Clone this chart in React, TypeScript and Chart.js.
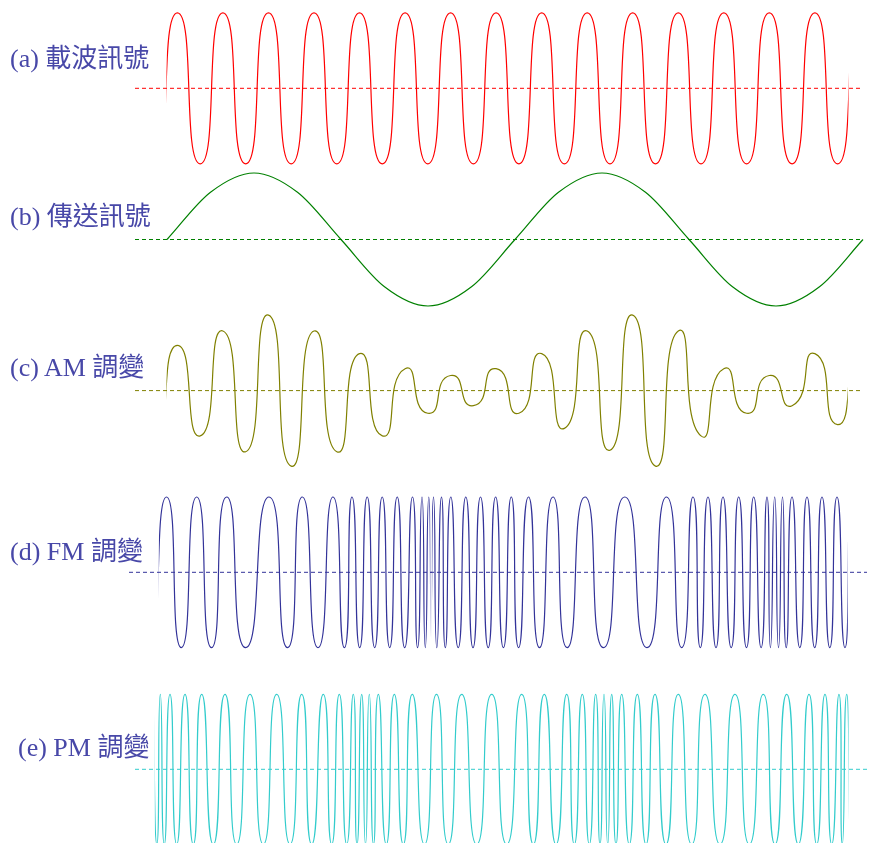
import React, { useEffect, useRef } from "react";
import { Chart, registerables } from "chart.js";

Chart.register(...registerables);

// Time axis: samples counted from the start of the carrier.
// (a) carrier: extrema (amplitude 1)
const carrierPeakTimes = [11.4, 56.9, 102.5, 148.0, 193.5, 239.1, 284.6, 330.1, 375.7, 421.2, 466.7, 512.3, 557.8, 603.3, 648.9];
const carrierTroughTimes = [34.2, 79.7, 125.2, 170.8, 216.3, 261.8, 307.4, 352.9, 398.4, 444.0, 489.5, 535.0, 580.6, 626.1, 671.6];
const carrierSpan = [0, 683];

// (b) message signal
const messageTimes = [1, 44.5, 88, 131.5, 175, 218.5, 262, 305.5, 349, 392.5, 436, 479.5, 523, 566.5, 610, 653.5, 697];
const messageValues = [0, 0.71, 1, 0.71, 0, -0.71, -1, -0.71, 0, 0.71, 1, 0.71, 0, -0.71, -1, -0.71, 0];

// (c) AM: envelope level at each carrier peak / trough
const amPeakLevels = [0.6, 0.79, 1.0, 0.79, 0.49, 0.29, 0.2, 0.29, 0.49, 0.79, 1.0, 0.79, 0.29, 0.2, 0.49];
const amTroughLevels = [0.6, 0.81, 1.0, 0.81, 0.6, 0.3, 0.2, 0.3, 0.5, 0.79, 1.0, 0.6, 0.3, 0.2, 0.45];
const amSpan = [0, 682.3];

// (d) FM (with a short flat step at the centre line around t = 265)
const fmPeakTimes = [0.5, 30.7, 60.7, 103, 136.3, 167, 186, 201.2, 216.2, 231.2, 246.5, 256, 262.8, 267.5, 275.5, 284.8, 299.8, 314.5, 329.6, 345.3, 362.5, 387, 419, 458.8, 500.5, 527, 542, 557, 572.7, 587.7, 601, 608.7, 616.5, 626, 641, 656, 671];
const fmTroughTimes = [15.3, 45.5, 79.7, 121.5, 152, 178.4, 193.7, 208.7, 223.7, 238.7, 251.6, 259.3, 270.8, 279.3, 292.2, 307, 322.2, 337.4, 352.6, 373.5, 401.2, 437.5, 481, 515.7, 534.3, 550, 565.2, 580.5, 595.1, 604.4, 612.5, 620.2, 633.8, 648.7, 663.8, 679];
const fmFlatZeroTimes = [264.5, 265.7];
const fmSpan = [-7.7, 682.3];

// (e) PM
const pmPeakTimes = [-5.7, 4, 19, 35.7, 59, 84, 110.7, 135.7, 157.3, 173.3, 187.3, 195.7, 203.3, 212.3, 228.3, 246.3, 270.5, 295.7, 325.7, 355.7, 378.3, 400.7, 416.3, 429.7, 438, 445.7, 455.7, 471.3, 489, 512.3, 539, 569, 597.3, 620.7, 643, 659, 673, 680.7];
const pmTroughTimes = [-9.2, -1.7, 10.7, 27.3, 47.3, 70.7, 97.3, 124, 145.7, 165.7, 180.7, 191, 199.5, 207.5, 220.3, 237.3, 258.5, 282.3, 310.7, 340.7, 367.3, 390, 408.3, 423.3, 434, 441.7, 450, 463.3, 480, 500, 525.7, 554, 583.3, 609, 632.3, 650.7, 665.7, 676.3];
const pmSpan = [-11.7, 683];

const panelLabels = ["(a) 載波訊號", "(b) 傳送訊號", "(c) AM 調變", "(d) FM 調變", "(e) PM 調變"];
const baselineStart = [-31, -31, -31, -37, -31];
const baselineEnd = [697, 697, 696, 701, 703];

// layout / style (not data)
const W = 869;
const H = 843;
const X_MIN = -166;
const PANELS = [
  { id: "ya", center: 88.3, amp: 75.5, color: "#ff0000", labelX: 10, baseline: 68 },
  { id: "yb", center: 239.5, amp: 66.5, color: "#008000", labelX: 10, baseline: 226 },
  { id: "yc", center: 390.6, amp: 75.5, color: "#808000", labelX: 10, baseline: 377 },
  { id: "yd", center: 572.3, amp: 75.3, color: "#333399", labelX: 10, baseline: 561 },
  { id: "ye", center: 769.3, amp: 75, color: "#33cccc", labelX: 18, baseline: 756.5 },
];
const LABEL_COLOR = "#4848a8";
const LOBE_TENSION = 0.78;
const EDGE_INSET = 0.5;
const JOIN_INSET = 0.2;

type P = { x: number; y: number };

function mergePoints(peaks: number[], peakVals: number[], troughs: number[], troughVals: number[]): P[] {
  const pts: P[] = [];
  peaks.forEach((t, i) => pts.push({ x: t, y: peakVals[i] }));
  troughs.forEach((t, i) => pts.push({ x: t, y: -troughVals[i] }));
  return pts.sort((a, b) => a.x - b.x);
}
// Continue the wave (odd symmetry) past its start/end zero so the spline keeps
// its lobe shape; the continuation is clipped away when drawn.
function withEdges(pts: P[], span: number[]): P[] {
  const [s, e] = span;
  const head = [pts[1], pts[0]].map((p) => ({ x: 2 * s - p.x, y: -p.y }));
  const n = pts.length;
  const tail = [pts[n - 1], pts[n - 2]].map((p) => ({ x: 2 * e - p.x, y: -p.y }));
  return [...head, ...pts, ...tail];
}
const ones = (n: number) => new Array(n).fill(1);

const spanClip = {
  id: "spanClip",
  beforeDatasetDraw(chart: any, args: any) {
    const ds: any = chart.data.datasets[args.index];
    if (!ds.span) return;
    const x = chart.scales.x;
    const l = x.getPixelForValue(ds.span[0]) + ds.insets[0];
    const r = x.getPixelForValue(ds.span[1]) - ds.insets[1];
    chart.ctx.save();
    chart.ctx.beginPath();
    chart.ctx.rect(l, 0, r - l, chart.height);
    chart.ctx.clip();
  },
  afterDatasetDraw(chart: any, args: any) {
    const ds: any = chart.data.datasets[args.index];
    if (!ds.span) return;
    chart.ctx.restore();
  },
};

export default function App() {
  const ref = useRef<HTMLCanvasElement | null>(null);

  useEffect(() => {
    if (!ref.current) return;
    const carrier = mergePoints(carrierPeakTimes, ones(carrierPeakTimes.length), carrierTroughTimes, ones(carrierTroughTimes.length));
    const message = messageTimes.map((t, i) => ({ x: t, y: messageValues[i] }));
    const am = mergePoints(carrierPeakTimes, amPeakLevels, carrierTroughTimes, amTroughLevels);
    const fm = mergePoints(fmPeakTimes, ones(fmPeakTimes.length), fmTroughTimes, ones(fmTroughTimes.length));
    const pm = mergePoints(pmPeakTimes, ones(pmPeakTimes.length), pmTroughTimes, ones(pmTroughTimes.length));
    const fmSpanA = [fmSpan[0], fmFlatZeroTimes[0]];
    const fmSpanB = [fmFlatZeroTimes[1], fmSpan[1]];
    const fmA = fm.filter((p) => p.x < fmSpanA[1]);
    const fmB = fm.filter((p) => p.x > fmSpanB[0]);

    type Wave = { panel: number; data: P[]; span?: number[]; insets?: number[]; mode: string };
    const waves: Wave[] = [
      { panel: 0, data: withEdges(carrier, carrierSpan), span: carrierSpan, insets: [EDGE_INSET, EDGE_INSET], mode: "lobe" },
      { panel: 1, data: message, mode: "monotone" },
      { panel: 2, data: withEdges(am, amSpan), span: amSpan, insets: [EDGE_INSET, EDGE_INSET], mode: "lobe" },
      { panel: 3, data: withEdges(fmA, fmSpanA), span: fmSpanA, insets: [EDGE_INSET, JOIN_INSET], mode: "lobe" },
      { panel: 3, data: fmFlatZeroTimes.map((t) => ({ x: t, y: 0 })), mode: "straight" },
      { panel: 3, data: withEdges(fmB, fmSpanB), span: fmSpanB, insets: [JOIN_INSET, EDGE_INSET], mode: "lobe" },
      { panel: 4, data: withEdges(pm, pmSpan), span: pmSpan, insets: [EDGE_INSET, EDGE_INSET], mode: "lobe" },
    ];

    const datasets: any[] = [];
    PANELS.forEach((p, i) => {
      datasets.push({
        data: [
          { x: baselineStart[i], y: 0 },
          { x: baselineEnd[i], y: 0 },
        ],
        yAxisID: p.id,
        borderColor: p.color,
        borderWidth: 1,
        borderDash: [4, 3],
        pointRadius: 0,
        tension: 0,
      });
    });
    waves.forEach((w) => {
      const p = PANELS[w.panel];
      const ds: any = {
        data: w.data,
        yAxisID: p.id,
        borderColor: p.color,
        borderWidth: 1.2,
        pointRadius: 0,
      };
      if (w.mode === "lobe") {
        ds.span = w.span;
        ds.insets = w.insets;
        ds.cubicInterpolationMode = "default";
        ds.tension = LOBE_TENSION;
      } else if (w.mode === "monotone") {
        ds.cubicInterpolationMode = "monotone";
      } else {
        ds.tension = 0;
      }
      datasets.push(ds);
    });

    const scales: any = {
      x: { type: "linear", min: X_MIN, max: X_MIN + W, display: false },
    };
    PANELS.forEach((p) => {
      scales[p.id] = {
        type: "linear",
        min: -(H - p.center) / p.amp,
        max: p.center / p.amp,
        display: false,
      };
    });

    const chart = new Chart(ref.current, {
      type: "line",
      data: { datasets },
      options: {
        responsive: false,
        animation: false,
        layout: { padding: 0 },
        plugins: { legend: { display: false }, tooltip: { enabled: false }, title: { display: false } },
        events: [],
        scales,
      },
      plugins: [spanClip],
    });
    return () => chart.destroy();
  }, []);

  return (
    <div style={{ position: "absolute", left: 0, top: 0, width: W, height: H, background: "#fff", overflow: "hidden" }}>
      <canvas ref={ref} width={W} height={H} style={{ display: "block", width: W, height: H }} />
      {PANELS.map((p, i) => (
        <div
          key={p.id}
          style={{
            position: "absolute",
            left: p.labelX,
            top: p.baseline - 22,
            fontSize: 26,
            lineHeight: "26px",
            whiteSpace: "nowrap",
            color: LABEL_COLOR,
            fontFamily: '"Liberation Serif", "Noto Sans CJK TC", serif',
          }}
        >
          {panelLabels[i]}
        </div>
      ))}
    </div>
  );
}
